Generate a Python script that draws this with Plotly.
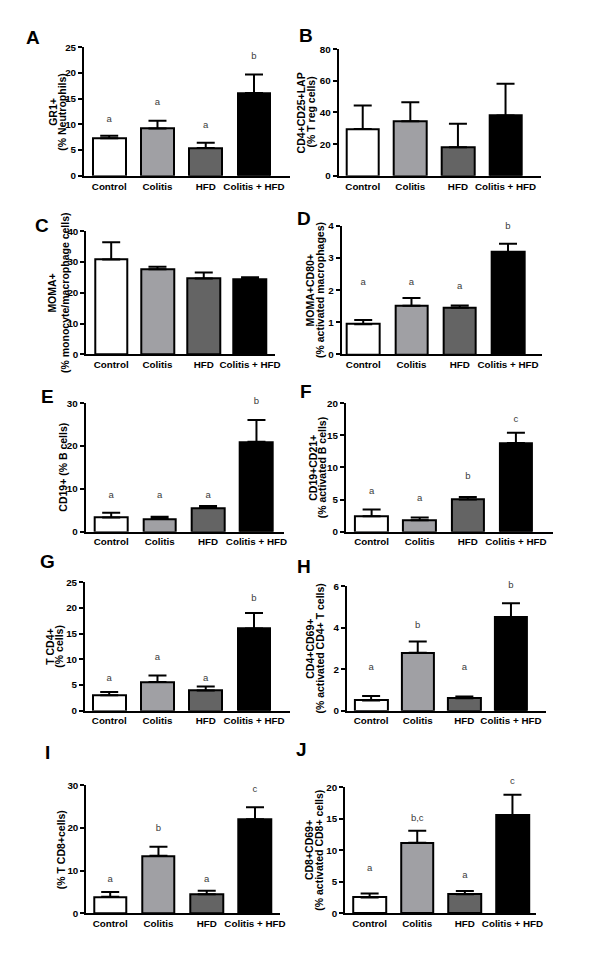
import plotly.graph_objects as go

W, H = 600, 977

groups = ["Control", "Colitis", "HFD", "Colitis + HFD"]
bar_colors = ["#ffffff", "#a0a0a4", "#646464", "#000000"]

# Panel A
A_mean = [7.3, 9.2, 5.4, 16.1]
A_top = [7.8, 10.7, 6.4, 19.7]
A_letters = ["a", "a", "a", "b"]
A_letter_y = [11.0, 14.3, 9.7, 23.1]
# Panel B
B_mean = [29.5, 34.4, 18.1, 38.1]
B_top = [44.4, 46.5, 32.9, 58.1]
B_letters = ["", "", "", ""]
B_letter_y = [0, 0, 0, 0]
# Panel C
C_mean = [30.8, 27.6, 24.6, 24.4]
C_top = [36.4, 28.4, 26.6, 25.0]
C_letters = ["", "", "", ""]
C_letter_y = [0, 0, 0, 0]
# Panel D
D_mean = [0.94, 1.51, 1.45, 3.18]
D_top = [1.07, 1.75, 1.52, 3.44]
D_letters = ["a", "a", "a", "b"]
D_letter_y = [2.23, 2.23, 2.11, 3.96]
# Panel E
E_mean = [3.3, 3.0, 5.6, 21.0]
E_top = [4.4, 3.5, 6.0, 26.1]
E_letters = ["a", "a", "a", "b"]
E_letter_y = [8.5, 8.5, 8.5, 30.4]
# Panel F
F_mean = [2.4, 1.8, 5.0, 13.8]
F_top = [3.44, 2.2, 5.4, 15.4]
F_letters = ["a", "a", "b", "c"]
F_letter_y = [6.3, 5.1, 8.5, 17.5]
# Panel G
G_mean = [3.0, 5.6, 3.9, 16.0]
G_top = [3.65, 6.86, 4.7, 19.0]
G_letters = ["a", "a", "a", "b"]
G_letter_y = [6.3, 10.4, 6.3, 21.8]
# Panel H
H_mean = [0.49, 2.79, 0.6, 4.51]
H_top = [0.71, 3.33, 0.68, 5.17]
H_letters = ["a", "b", "a", "b"]
H_letter_y = [2.08, 4.1, 2.08, 6.0]
# Panel I
I_mean = [3.86, 13.5, 4.47, 22.0]
I_top = [5.0, 15.6, 5.3, 24.8]
I_letters = ["a", "b", "a", "c"]
I_letter_y = [7.9, 19.9, 7.9, 29.0]
# Panel J
J_mean = [2.5, 11.2, 3.04, 15.5]
J_top = [3.13, 13.1, 3.55, 18.8]
J_letters = ["a", "b,c", "a", "c"]
J_letter_y = [7.15, 15.0, 6.0, 20.9]

y_max = {"A": 25, "B": 80, "C": 40, "D": 4, "E": 30, "F": 20, "G": 25, "H": 6, "I": 30, "J": 20}
y_dtick = {"A": 5, "B": 20, "C": 10, "D": 1, "E": 10, "F": 5, "G": 5, "H": 2, "I": 10, "J": 5}
y_titles = {
    "A": ["GR1+", "(% Neutrophils)"],
    "B": ["CD4+CD25+LAP", "(% T reg cells)"],
    "C": ["MOMA+", "(% monocyte/macrophage cells)"],
    "D": ["MOMA+CD80+", "(% activated macrophages)"],
    "E": ["CD19+ (% B cells)"],
    "F": ["CD19+CD21+", "(% activated B cells)"],
    "G": ["T CD4+", "(% cells)"],
    "H": ["CD4+CD69+", "(% activated CD4+ T cells)"],
    "I": ["(% T CD8+cells)"],
    "J": ["CD8+CD69+", "(% activated CD8+ cells)"],
}

data = {
    "A": (A_mean, A_top, A_letters, A_letter_y),
    "B": (B_mean, B_top, B_letters, B_letter_y),
    "C": (C_mean, C_top, C_letters, C_letter_y),
    "D": (D_mean, D_top, D_letters, D_letter_y),
    "E": (E_mean, E_top, E_letters, E_letter_y),
    "F": (F_mean, F_top, F_letters, F_letter_y),
    "G": (G_mean, G_top, G_letters, G_letter_y),
    "H": (H_mean, H_top, H_letters, H_letter_y),
    "I": (I_mean, I_top, I_letters, I_letter_y),
    "J": (J_mean, J_top, J_letters, J_letter_y),
}

# Layout (pixels): axis left, axis right, y of zero, y of top, first bar center, last bar center,
# y-title line x positions, panel label position
layout_px = {
    "A": dict(l=85, r=293, y0=171.7, yt=41.7, c0=110.5, c3=257, tx=[54, 63], lab=(33, 32)),
    "B": dict(l=342.7, r=547, y0=171.7, yt=43.7, c0=367, c3=511.5, tx=[305.5, 314.7], lab=(310, 30)),
    "C": dict(l=87.3, r=278, y0=352.3, yt=227.7, c0=112.5, c3=253, tx=[52.5, 65], lab=(43, 222)),
    "D": dict(l=345.7, r=548, y0=352.3, yt=222.3, c0=367.5, c3=514, tx=[314, 323.7], lab=(308, 215)),
    "E": dict(l=86.7, r=287, y0=531.7, yt=401.7, c0=112.5, c3=259.5, tx=[64], lab=(48, 395)),
    "F": dict(l=350, r=560, y0=531.7, yt=401.7, c0=376, c3=522, tx=[317, 326.7], lab=(310, 390)),
    "G": dict(l=86, r=293, y0=712.7, yt=582.7, c0=110.5, c3=257, tx=[51, 60], lab=(48, 562)),
    "H": dict(l=351, r=552, y0=712.7, yt=586.7, c0=375.5, c3=517, tx=[314, 324], lab=(308, 567)),
    "I": dict(l=87.3, r=283, y0=917.7, yt=788, c0=111.5, c3=258, tx=[61.7], lab=(48, 755)),
    "J": dict(l=349.3, r=542, y0=917.7, yt=790, c0=374, c3=518.5, tx=[312.5, 323.3], lab=(305, 752)),
}

FONT = "Liberation Sans, Arial, Helvetica, sans-serif"
BAR_PX = 33
EXT = 1.15  # headroom of the hidden axis used for significance letters

fig = go.Figure()
annotations = []
for i, key in enumerate("ABCDEFGHIJ"):
    mean, top, letters, letter_y = data[key]
    p = layout_px[key]
    idx = "" if i == 0 else str(i + 1)
    xa, ya = "x" + idx, "y" + idx
    ya_hidden = "y" + str(i + 11)
    s = (p["c3"] - p["c0"]) / 3.0
    xr = [-(p["c0"] - p["l"]) / s, 3 + (p["r"] - p["c3"]) / s]
    fig.add_trace(go.Bar(
        x=[0, 1, 2, 3], y=mean, xaxis=xa, yaxis=ya,
        width=BAR_PX / s,
        marker=dict(color=bar_colors, line=dict(color="black", width=2)),
        error_y=dict(type="data", symmetric=False,
                     array=[t - m for t, m in zip(top, mean)],
                     arrayminus=[0, 0, 0, 0],
                     color="black", thickness=2, width=9),
        showlegend=False, hoverinfo="skip",
    ))
    d0 = 1 - p["y0"] / H
    d1 = 1 - p["yt"] / H
    if any(letters):
        fig.add_trace(go.Scatter(
            x=[j for j, lt in enumerate(letters) if lt],
            y=[ly for lt, ly in zip(letters, letter_y) if lt],
            text=[lt for lt in letters if lt],
            mode="text", textposition="middle center", cliponaxis=False,
            textfont=dict(family=FONT, size=9.5, color="#3a3a3a"),
            xaxis=xa, yaxis=ya_hidden, showlegend=False, hoverinfo="skip",
        ))
    axx = dict(domain=[p["l"] / W, p["r"] / W], range=xr, anchor=ya,
               showline=True, linecolor="black", linewidth=2, ticks="",
               tickmode="array", tickvals=[0, 1, 2, 3], ticktext=groups,
               tickfont=dict(family=FONT, size=9.8, color="black", weight="bold"),
               showgrid=False, zeroline=False, fixedrange=True)
    axy = dict(domain=[d0, d1], range=[0, y_max[key]], anchor=xa,
               showline=True, linecolor="black", linewidth=2, ticks="outside",
               ticklen=4, tickwidth=1.5, tickcolor="black", dtick=y_dtick[key], tick0=0,
               tickfont=dict(family=FONT, size=9.8, color="black", weight="bold"),
               showgrid=False, zeroline=False, fixedrange=True)
    axy_hidden = dict(domain=[d0, d0 + (d1 - d0) * EXT], range=[0, y_max[key] * EXT],
                      anchor=xa, visible=False, showgrid=False, zeroline=False, fixedrange=True)
    fig.layout["xaxis" + idx] = axx
    fig.layout["yaxis" + idx] = axy
    fig.layout["yaxis" + str(i + 11)] = axy_hidden
    # y titles
    yc = 1 - (p["y0"] + p["yt"]) / 2 / H
    for line, tx in zip(y_titles[key], p["tx"]):
        annotations.append(dict(x=tx / W, y=yc, xref="paper", yref="paper", text=line,
                                showarrow=False, textangle=-90,
                                font=dict(family=FONT, size=10.5, color="black", weight="bold"),
                                xanchor="center", yanchor="middle"))
    # panel label
    annotations.append(dict(x=p["lab"][0] / W, y=1 - p["lab"][1] / H, xref="paper", yref="paper",
                            text=key, showarrow=False,
                            font=dict(family=FONT, size=19, color="black", weight="bold"),
                            xanchor="center", yanchor="middle"))

fig.update_layout(width=W, height=H, margin=dict(l=0, r=0, t=0, b=0),
                  plot_bgcolor="rgba(0,0,0,0)", paper_bgcolor="white",
                  bargap=0, annotations=annotations)

fig.write_html("out.html", config={"displayModeBar": False},
               post_script="document.body.style.margin='0';document.body.style.padding='0';"
                           "document.documentElement.style.overflow='hidden';")
